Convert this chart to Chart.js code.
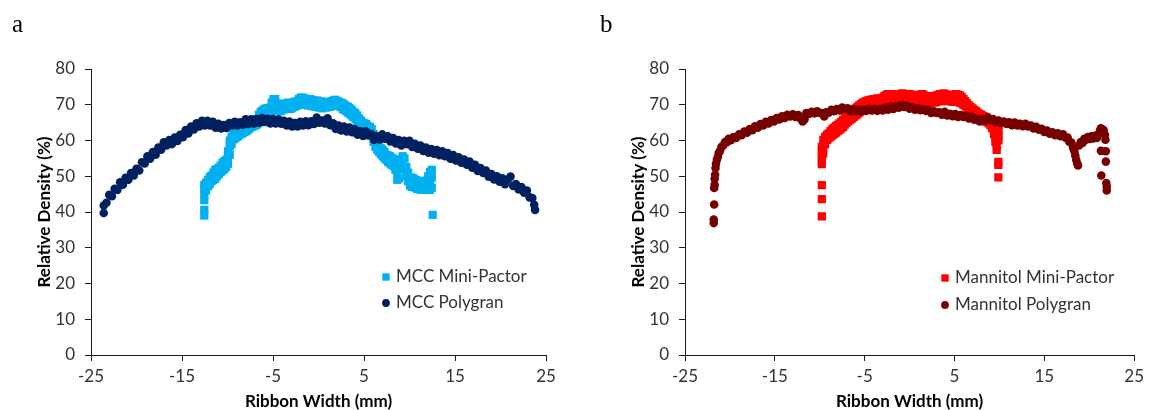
<!DOCTYPE html>
<html>
<head>
<meta charset="utf-8">
<title>Relative density across ribbon width</title>
<script src="https://cdn.jsdelivr.net/npm/chart.js@4.4.1/dist/chart.umd.min.js"></script>
<style>
  html, body { margin: 0; padding: 0; background: #fff; overflow: hidden; }
  #wrap { position: relative; width: 1149px; height: 410px; }
  canvas { position: absolute; top: 0; }
  #panelA { left: 0; }
  #panelB { left: 575px; }
</style>
</head>
<body>
<div id="wrap">
  <canvas id="panelA" width="575" height="410"></canvas>
  <canvas id="panelB" width="574" height="410"></canvas>
</div>
<script>
// Axis ticks shared by both panels
const xTickValues = [-25, -15, -5, 5, 15, 25];
const yTickValues = [0, 10, 20, 30, 40, 50, 60, 70, 80];
const xTitle = 'Ribbon Width (mm)';
const yTitle = 'Relative Density (%)';

// Series labels
const mccMiniLabel = 'MCC Mini-Pactor';
const mccPolyLabel = 'MCC Polygran';
const manMiniLabel = 'Mannitol Mini-Pactor';
const manPolyLabel = 'Mannitol Polygran';

// Panel a: MCC ribbons, [ribbon width mm, relative density %]
const mccMiniPactor = [
  [-12.55,39.0],[-12.55,40.6],[-12.55,43.3],[-12.55,44.8],[-12.55,46.3],[-12.55,47.6],
  [-12.35,46.0],[-12.35,48.2],[-12.15,47.2],[-12.15,49.0],[-11.95,47.8],[-11.95,49.8],
  [-11.75,48.6],[-11.75,50.2],[-11.55,49.0],[-11.55,51.0],[-11.35,49.3],[-11.35,51.8],
  [-11.15,50.0],[-11.15,52.0],[-10.95,50.6],[-10.95,52.4],[-10.75,51.2],[-10.75,53.0],
  [-10.55,51.6],[-10.55,53.8],[-10.35,52.0],[-10.35,54.2],[-10.15,52.6],[-10.15,54.6],
  [-9.95,53.5],[-9.95,55.6],[-9.95,57.0],[-9.75,56.0],[-9.75,58.4],[-9.75,60.0],
  [-9.55,59.0],[-9.55,61.0],[-9.35,60.3],[-9.35,61.8],[-9.15,60.6],[-9.15,62.0],
  [-8.95,61.0],[-8.95,62.4],[-8.75,61.4],[-8.75,63.0],[-8.55,61.8],[-8.55,63.2],
  [-8.35,62.0],[-8.35,63.6],[-8.15,62.4],[-8.15,63.8],[-7.95,62.6],[-7.95,64.0],
  [-7.75,63.0],[-7.75,64.4],[-7.55,63.4],[-7.55,64.8],[-7.35,63.8],[-7.35,65.0],
  [-7.15,64.0],[-7.15,65.4],[-6.95,64.2],[-6.95,65.6],[-6.75,64.5],[-6.75,66.0],
  [-6.55,65.0],[-6.55,67.2],[-6.35,65.6],[-6.35,68.0],[-6.15,66.0],[-6.15,68.4],
  [-5.95,66.6],[-5.95,68.8],[-5.75,67.0],[-5.75,69.0],[-5.55,67.4],[-5.55,69.0],
  [-5.35,67.8],[-5.35,69.2],[-5.15,68.2],[-5.15,70.6],[-4.95,68.8],[-4.95,71.6],
  [-4.75,69.0],[-4.75,71.6],[-4.55,68.6],[-4.55,70.4],[-4.35,68.4],[-4.35,69.6],
  [-4.15,68.2],[-4.15,69.8],[-3.95,68.6],[-3.95,70.2],[-3.75,68.8],[-3.75,70.0],
  [-3.55,69.0],[-3.55,70.4],[-3.35,69.2],[-3.35,70.6],[-3.15,68.8],[-3.15,70.2],
  [-2.95,69.0],[-2.95,70.4],[-2.75,69.4],[-2.75,70.8],[-2.55,69.6],[-2.55,70.6],
  [-2.35,69.8],[-2.35,71.0],[-2.15,70.0],[-2.15,71.6],[-1.95,70.2],[-1.95,72.0],
  [-1.75,70.6],[-1.75,72.0],[-1.55,70.4],[-1.55,71.8],[-1.35,70.0],[-1.35,71.4],
  [-1.15,69.8],[-1.15,71.2],[-0.95,70.2],[-0.95,71.6],[-0.75,69.6],[-0.75,71.4],
  [-0.55,69.8],[-0.55,71.2],[-0.35,69.4],[-0.35,71.0],[-0.15,69.6],[-0.15,71.2],
  [0.05,69.2],[0.05,70.8],[0.25,69.4],[0.25,71.0],[0.45,69.0],[0.45,70.6],
  [0.65,69.4],[0.65,70.8],[0.85,69.2],[0.85,70.8],[1.05,69.6],[1.05,70.6],
  [1.25,69.4],[1.25,70.4],[1.45,69.8],[1.45,71.0],[1.65,70.0],[1.65,71.2],
  [1.85,70.2],[1.85,71.4],[2.05,69.8],[2.05,71.0],[2.25,69.6],[2.25,70.8],
  [2.45,69.4],[2.45,70.6],[2.65,68.8],[2.65,70.4],[2.85,68.6],[2.85,70.0],
  [3.05,68.2],[3.05,69.6],[3.25,67.8],[3.25,69.4],[3.45,67.4],[3.45,69.0],
  [3.65,67.0],[3.65,68.6],[3.85,66.6],[3.85,68.0],[4.05,66.0],[4.05,67.6],
  [4.25,65.4],[4.25,67.0],[4.45,64.8],[4.45,66.2],[4.65,64.2],[4.65,65.6],
  [4.85,63.8],[4.85,65.0],[5.05,63.4],[5.05,64.8],[5.25,63.0],[5.25,64.6],
  [5.45,62.8],[5.45,64.0],[5.65,62.2],[5.65,63.8],[5.85,61.4],[5.85,63.2],
  [6.05,59.6],[6.05,61.8],[6.25,58.2],[6.25,60.0],[6.45,57.4],[6.45,58.8],
  [6.65,56.8],[6.65,58.4],[6.85,56.2],[6.85,57.8],[7.05,55.6],[7.05,57.4],
  [7.25,55.0],[7.25,56.8],[7.45,54.6],[7.45,56.0],[7.65,54.0],[7.65,55.8],
  [7.85,53.6],[7.85,55.6],[8.05,53.2],[8.05,55.2],[8.25,52.8],[8.25,54.8],
  [8.45,51.8],[8.45,53.4],[8.65,49.0],[8.65,51.2],[8.85,49.4],[8.85,52.0],
  [9.05,52.0],[9.05,54.8],[9.25,53.0],[9.25,55.6],[9.45,52.4],[9.45,55.0],
  [9.65,50.0],[9.65,52.6],[9.85,48.6],[9.85,51.0],[10.05,47.4],[10.05,49.6],
  [10.25,47.0],[10.25,49.6],[10.45,47.2],[10.45,49.4],[10.65,46.8],[10.65,49.0],
  [10.85,46.4],[10.85,48.8],[11.05,46.6],[11.05,48.6],[11.25,46.2],[11.25,48.4],
  [11.45,46.4],[11.45,48.2],[11.65,46.2],[11.65,48.4],[11.85,46.6],[11.85,48.8],
  [12.05,46.4],[12.05,50.0],[12.25,46.2],[12.25,48.6],[12.25,51.2],
  [12.45,46.8],[12.45,49.6],[12.45,51.8],[12.55,39.2]
];

const mccPolygran = [
  [-23.6,39.7],[-23.6,41.8],[-23.3,42.6],[-23.0,44.8],[-22.7,44.4],[-22.4,46.5],[-22.1,46.2],
  [-21.8,48.3],[-21.5,47.6],[-21.2,49.6],[-20.9,49.0],[-20.6,50.9],[-20.3,50.2],[-20.0,52.1],
  [-19.7,51.6],[-19.4,53.9],[-19.1,53.6],[-18.8,55.6],[-18.5,54.9],[-18.2,56.8],[-17.9,56.0],
  [-17.6,58.0],[-17.3,57.4],[-17.0,59.5],[-16.7,58.6],[-16.4,60.1],[-16.1,59.0],[-15.8,60.8],
  [-15.5,59.9],[-15.2,61.6],[-14.9,60.9],[-14.6,62.9],[-14.3,62.0],[-14.0,63.9],[-13.7,63.1],
  [-13.4,64.8],[-13.1,63.9],[-12.8,65.5],[-12.5,64.2],[-12.2,65.5],[-11.9,64.2],[-11.6,65.2],
  [-11.3,63.6],[-11.0,64.7],[-10.7,63.4],[-10.4,64.3],[-10.1,63.5],[-9.8,64.9],[-9.5,64.2],
  [-9.2,65.2],[-8.9,64.2],[-8.6,65.1],[-8.3,64.4],[-8.0,65.9],[-7.7,64.6],[-7.4,65.9],
  [-7.1,64.8],[-6.8,66.0],[-6.5,65.0],[-6.2,66.3],[-5.9,65.2],[-5.6,66.1],[-5.3,64.8],
  [-5.0,66.0],[-4.7,64.8],[-4.4,65.9],[-4.1,64.7],[-3.8,65.5],[-3.5,64.2],[-3.2,65.3],
  [-2.9,63.9],[-2.6,64.9],[-2.3,63.9],[-2.0,65.2],[-1.7,64.2],[-1.4,65.4],[-1.1,64.3],
  [-0.8,65.4],[-0.5,64.6],[-0.2,66.4],[0.1,65.0],[0.4,65.6],[0.7,64.8],[1.0,66.2],
  [1.3,64.3],[1.6,64.8],[1.9,63.2],[2.2,64.2],[2.5,62.8],[2.8,63.9],[3.1,62.5],
  [3.4,63.6],[3.7,62.3],[4.0,63.1],[4.3,61.6],[4.6,62.6],[4.9,61.3],[5.2,62.6],
  [5.5,61.4],[5.8,61.8],[6.1,60.2],[6.4,61.2],[6.7,60.3],[7.0,61.7],[7.3,60.5],
  [7.6,61.2],[7.9,59.7],[8.2,60.7],[8.5,59.2],[8.8,60.1],[9.1,58.6],[9.4,59.9],
  [9.7,59.0],[10.0,59.9],[10.3,58.2],[10.6,59.1],[10.9,57.7],[11.2,58.6],[11.5,57.1],
  [11.8,58.0],[12.1,56.6],[12.4,57.6],[12.7,56.3],[13.0,57.3],[13.3,55.9],[13.6,57.0],
  [13.9,55.6],[14.2,56.5],[14.5,54.9],[14.8,55.9],[15.1,54.4],[15.4,55.3],[15.7,53.8],
  [16.0,54.7],[16.3,53.2],[16.6,54.1],[16.9,52.4],[17.2,53.2],[17.5,51.5],[17.8,52.3],
  [18.1,50.9],[18.4,51.6],[18.7,49.9],[19.0,50.6],[19.3,49.1],[19.6,50.0],[19.9,48.5],
  [20.2,49.4],[20.5,47.8],[20.8,49.1],[21.1,49.9],[21.4,47.3],[21.7,47.8],[22.0,46.3],
  [22.3,47.0],[22.6,45.4],[22.9,46.0],[23.2,44.1],[23.5,43.9],[23.7,42.0],[23.8,40.6]
];

// Panel b: mannitol ribbons, [ribbon width mm, relative density %]
const mannitolMiniPactor = [
  [-9.77,38.8],[-9.77,43.6],[-9.77,47.5],[-9.77,53.4],[-9.77,54.6],[-9.77,55.8],[-9.77,57.0],[-9.77,58.2],
  [-9.6,56.4],[-9.6,58.8],[-9.6,60.2],[-9.4,59.0],[-9.4,61.0],[-9.2,60.2],[-9.2,61.6],
  [-9.0,60.6],[-9.0,62.0],[-8.8,61.0],[-8.8,62.6],[-8.6,61.4],[-8.6,63.2],[-8.4,61.8],[-8.4,63.6],
  [-8.2,62.2],[-8.2,64.0],[-8.0,62.6],[-8.0,64.4],[-7.8,63.0],[-7.8,64.8],[-7.6,63.4],[-7.6,65.2],
  [-7.4,63.8],[-7.4,65.8],[-7.2,64.4],[-7.2,66.4],[-7.0,65.0],[-7.0,67.0],[-6.8,65.4],[-6.8,67.4],
  [-6.6,65.8],[-6.6,67.8],[-6.4,66.2],[-6.4,68.2],[-6.2,66.6],[-6.2,68.6],[-6.0,67.0],[-6.0,69.0],
  [-5.8,67.4],[-5.8,69.4],[-5.6,67.8],[-5.6,69.8],[-5.4,68.2],[-5.4,70.2],[-5.2,68.6],[-5.2,70.6],
  [-5.0,69.0],[-5.0,70.8],[-4.8,69.4],[-4.8,71.0],[-4.6,69.6],[-4.6,71.2],[-4.4,69.8],[-4.4,71.4],
  [-4.2,70.0],[-4.2,71.4],[-4.0,70.2],[-4.0,71.6],[-3.8,70.2],[-3.8,71.6],[-3.6,70.4],[-3.6,71.8],
  [-3.4,70.4],[-3.4,71.6],[-3.2,70.6],[-3.2,71.8],[-3.0,70.6],[-3.0,72.0],[-2.8,70.8],[-2.8,72.4],
  [-2.6,71.0],[-2.6,72.8],[-2.4,71.2],[-2.4,73.0],[-2.2,71.0],[-2.2,72.8],[-2.0,71.2],[-2.0,73.0],
  [-1.8,71.0],[-1.8,72.8],[-1.6,71.2],[-1.6,73.0],[-1.4,70.8],[-1.4,72.6],[-1.2,71.0],[-1.2,72.8],
  [-1.0,71.2],[-1.0,73.0],[-0.8,71.0],[-0.8,73.2],[-0.6,71.2],[-0.6,72.8],[-0.4,70.8],[-0.4,72.6],
  [-0.2,71.0],[-0.2,72.8],[0.0,71.2],[0.0,73.0],[0.2,71.0],[0.2,72.6],[0.4,70.8],[0.4,72.8],
  [0.6,71.2],[0.6,72.6],[0.8,71.0],[0.8,72.4],[1.0,71.2],[1.0,72.6],[1.2,71.0],[1.2,72.8],
  [1.4,71.2],[1.4,73.0],[1.6,70.8],[1.6,72.6],[1.8,71.0],[1.8,72.4],[2.0,70.8],[2.0,72.2],
  [2.2,71.0],[2.2,72.4],[2.4,70.6],[2.4,72.2],[2.6,70.8],[2.6,72.4],[2.8,70.6],[2.8,72.2],
  [3.0,70.8],[3.0,72.6],[3.2,71.0],[3.2,72.8],[3.4,71.2],[3.4,73.0],[3.6,71.0],[3.6,72.8],
  [3.8,71.2],[3.8,73.2],[4.0,71.4],[4.0,73.0],[4.2,71.0],[4.2,72.8],[4.4,71.2],[4.4,72.6],
  [4.6,71.0],[4.6,72.2],[4.8,70.8],[4.8,72.4],[5.0,71.0],[5.0,72.8],[5.2,71.2],[5.2,73.0],
  [5.4,70.8],[5.4,72.8],[5.6,70.6],[5.6,72.6],[5.8,70.4],[5.8,72.2],[6.0,70.0],[6.0,71.6],
  [6.2,69.6],[6.2,71.0],[6.4,69.2],[6.4,70.4],[6.6,68.8],[6.6,69.8],[6.8,68.2],[6.8,69.4],
  [7.0,67.8],[7.0,69.0],[7.2,67.4],[7.2,68.6],[7.4,67.0],[7.4,68.2],[7.6,66.6],[7.6,67.8],
  [7.8,66.2],[7.8,67.4],[8.0,66.0],[8.0,67.2],[8.2,65.6],[8.2,66.8],[8.4,65.4],[8.4,66.6],
  [8.6,65.2],[8.6,66.4],[8.8,64.8],[8.8,66.0],[9.0,64.2],[9.0,65.6],[9.2,63.4],[9.2,65.0],
  [9.4,61.8],[9.4,63.8],[9.55,59.6],[9.55,61.2],[9.7,57.4],[9.7,58.6],[9.9,60.0],[9.9,61.4],
  [9.9,62.8],[9.9,64.2],[9.88,54.0],[9.88,53.2],[9.88,49.7]
];

const mannitolPolygran = [
  [-21.8,36.9],[-21.8,37.9],[-21.75,42.1],[-21.75,46.7],[-21.7,47.6],[-21.7,49.3],[-21.65,50.4],
  [-21.6,52.3],[-21.55,53.5],[-21.45,54.6],[-21.35,55.4],[-21.25,56.5],[-21.1,57.1],[-20.95,58.2],
  [-20.75,58.6],[-20.55,59.6],[-20.35,59.5],[-20.15,60.5],[-19.9,60.1],[-19.6,61.0],[-19.3,60.7],
  [-19.0,61.7],[-18.7,61.5],[-18.4,62.5],[-18.1,62.2],[-17.8,63.2],[-17.5,62.9],[-17.2,64.0],
  [-16.9,63.6],[-16.6,64.6],[-16.3,64.2],[-16.0,65.2],[-15.7,64.8],[-15.4,65.7],[-15.1,65.3],
  [-14.8,66.3],[-14.5,65.9],[-14.2,66.8],[-13.9,66.3],[-13.6,67.2],[-13.3,66.7],[-13.0,67.3],
  [-12.7,66.6],[-12.4,67.1],[-12.1,66.0],[-11.9,65.3],[-11.7,65.9],[-11.5,67.7],[-11.2,67.4],
  [-10.9,68.0],[-10.6,67.6],[-10.3,68.2],[-10.0,67.7],[-9.7,67.6],[-9.5,66.7],[-9.3,67.9],
  [-9.0,67.8],[-8.7,68.6],[-8.4,68.2],[-8.1,68.8],[-7.8,68.4],[-7.5,69.2],[-7.2,68.8],
  [-6.9,69.0],[-6.6,68.2],[-6.3,68.7],[-6.0,68.2],[-5.7,68.6],[-5.4,68.1],[-5.1,68.6],
  [-4.8,68.3],[-4.5,68.8],[-4.2,68.4],[-3.9,68.9],[-3.6,68.3],[-3.3,68.8],[-3.0,68.4],
  [-2.7,69.2],[-2.4,68.6],[-2.1,69.4],[-1.8,68.8],[-1.5,69.6],[-1.2,69.2],[-0.9,70.0],
  [-0.6,69.4],[-0.3,69.7],[0.0,68.9],[0.3,69.3],[0.6,68.6],[0.9,69.0],[1.2,68.5],
  [1.5,68.7],[1.8,68.3],[2.1,68.6],[2.4,67.7],[2.7,68.2],[3.0,67.7],[3.3,67.9],
  [3.6,67.2],[3.9,68.0],[4.2,67.0],[4.5,67.5],[4.8,66.8],[5.1,67.4],[5.4,66.6],
  [5.7,67.1],[6.0,66.6],[6.3,67.0],[6.6,66.2],[6.9,66.6],[7.2,65.8],[7.5,66.1],
  [7.8,65.3],[8.1,66.0],[8.4,65.6],[8.7,66.4],[9.0,65.7],[9.3,66.0],[9.6,65.2],
  [9.9,65.6],[10.2,64.9],[10.5,65.3],[10.8,64.6],[11.1,65.1],[11.4,64.3],[11.7,65.0],
  [12.0,64.2],[12.3,64.7],[12.6,64.0],[12.9,64.7],[13.2,63.9],[13.5,64.2],[13.8,63.4],
  [14.1,63.8],[14.4,63.0],[14.7,63.3],[15.0,62.4],[15.3,62.8],[15.6,61.9],[15.9,62.3],
  [16.2,61.5],[16.5,62.0],[16.8,61.2],[17.1,61.7],[17.4,60.7],[17.6,60.8],[17.8,59.6],
  [18.0,59.4],[18.2,58.0],[18.35,57.0],[18.45,55.8],[18.55,54.6],[18.65,53.7],[18.75,53.0],
  [18.85,58.6],[19.05,59.6],[19.25,59.3],[19.45,60.5],[19.65,60.2],[19.85,61.0],[20.05,60.4],
  [20.25,61.2],[20.45,60.6],[20.65,61.3],[20.85,60.7],[21.05,61.8],[21.2,62.8],[21.3,63.4],
  [21.45,62.3],[21.6,62.9],[21.75,61.6],[21.8,60.2],[21.3,57.1],[21.85,57.0],[21.35,50.2],
  [21.85,54.1],[21.9,48.1],[21.95,47.1],[21.95,46.0]
];

const AXIS_COLOR = '#1a1a1a';
const TICK_COLOR = '#333333';
const FONT = 'Lato, "Open Sans", sans-serif';
const CIRCLE_R = 4.3;
const SQUARE_R = 5.8;

const toPoints = pairs => pairs.map(([x, y]) => ({ x, y }));

// Panel letter plus a boxless legend inside the plot area
const panelDecor = {
  id: 'panelDecor',
  afterDraw(chart, args, o) {
    const ctx = chart.ctx;
    ctx.save();
    ctx.fillStyle = '#000';
    ctx.font = '25px "Liberation Serif", "DejaVu Serif", serif';
    ctx.textAlign = 'left';
    ctx.textBaseline = 'alphabetic';
    ctx.fillText(o.letter, o.letterX, o.letterY);

    ctx.font = '17px ' + FONT;
    ctx.textBaseline = 'middle';
    o.entries.forEach((idx, i) => {
      const ds = chart.data.datasets[idx];
      const y = o.legendY + i * o.rowGap;
      ctx.fillStyle = ds.backgroundColor;
      Chart.helpers.drawPoint(ctx, {
        pointStyle: ds.pointStyle,
        radius: ds.pointStyle === 'rect' ? 5.2 : 3.9,
        borderWidth: 0,
        rotation: 0
      }, o.legendX, y);
      ctx.fillStyle = TICK_COLOR;
      ctx.fillText(ds.label, o.legendX + 10, y);
    });
    ctx.restore();
  }
};

function series(label, pairs, color, style, order) {
  return {
    label,
    data: toPoints(pairs),
    pointStyle: style,
    pointRadius: style === 'rect' ? SQUARE_R : CIRCLE_R,
    pointBackgroundColor: color,
    backgroundColor: color,
    pointBorderWidth: 0,
    borderWidth: 0,
    showLine: false,
    order
  };
}

function buildPanel(canvasId, datasets, decor) {
  return new Chart(document.getElementById(canvasId), {
    type: 'scatter',
    data: { datasets },
    options: {
      responsive: false,
      animation: false,
      events: [],
      layout: { padding: { left: 0, top: 69, right: decor.padRight, bottom: 0 } },
      plugins: {
        legend: { display: false },
        tooltip: { enabled: false },
        panelDecor: decor
      },
      scales: {
        x: {
          type: 'linear',
          min: -25,
          max: 25,
          afterBuildTicks: s => { s.ticks = xTickValues.map(v => ({ value: v })); },
          afterFit: s => { s.height = 55; },
          grid: { display: true, drawOnChartArea: false, drawTicks: true, tickLength: 6, color: AXIS_COLOR, lineWidth: 1 },
          border: { display: true, color: AXIS_COLOR, width: 1 },
          ticks: { font: { family: FONT, size: 17 }, color: TICK_COLOR, padding: 5, maxRotation: 0, autoSkip: false },
          title: {
            display: true, text: xTitle, color: '#000',
            font: { family: FONT, size: 17, weight: 'bold', lineHeight: 1 },
            padding: { top: 0, bottom: -0.5 }
          }
        },
        y: {
          type: 'linear',
          min: 0,
          max: 80,
          afterBuildTicks: s => { s.ticks = yTickValues.map(v => ({ value: v })); },
          afterFit: s => { s.width = decor.yWidth; },
          grid: { display: true, drawOnChartArea: false, drawTicks: true, tickLength: 6, color: AXIS_COLOR, lineWidth: 1 },
          border: { display: true, color: AXIS_COLOR, width: 1 },
          ticks: { font: { family: FONT, size: 17 }, color: TICK_COLOR, padding: 10, autoSkip: false },
          title: {
            display: true, text: yTitle, color: '#000',
            font: { family: FONT, size: 17, weight: 'bold', lineHeight: 1 },
            padding: { top: decor.yTitlePad, bottom: 0 }
          }
        }
      }
    },
    plugins: [panelDecor]
  });
}

function draw() {
  buildPanel('panelA', [
    series(mccMiniLabel, mccMiniPactor, '#00b0f0', 'rect', 1),
    series(mccPolyLabel, mccPolygran, '#002060', 'circle', 0)
  ], {
    letter: 'a', letterX: 12, letterY: 32,
    legendX: 386, legendY: 277, rowGap: 26, entries: [0, 1],
    yWidth: 91, yTitlePad: 36, padRight: 29
  });

  buildPanel('panelB', [
    series(manMiniLabel, mannitolMiniPactor, '#ff0000', 'rect', 1),
    series(manPolyLabel, mannitolPolygran, '#760000', 'circle', 0)
  ], {
    letter: 'b', letterX: 25, letterY: 32,
    legendX: 370, legendY: 278, rowGap: 27, entries: [0, 1],
    yWidth: 110, yTitlePad: 55, padRight: 10
  });
}

const fontLoads = [
  '17px Lato', 'bold 17px Lato', '25px "Liberation Serif"'
].map(f => document.fonts ? document.fonts.load(f).catch(() => null) : Promise.resolve());
Promise.all(fontLoads).then(draw, draw);
</script>
</body>
</html>
